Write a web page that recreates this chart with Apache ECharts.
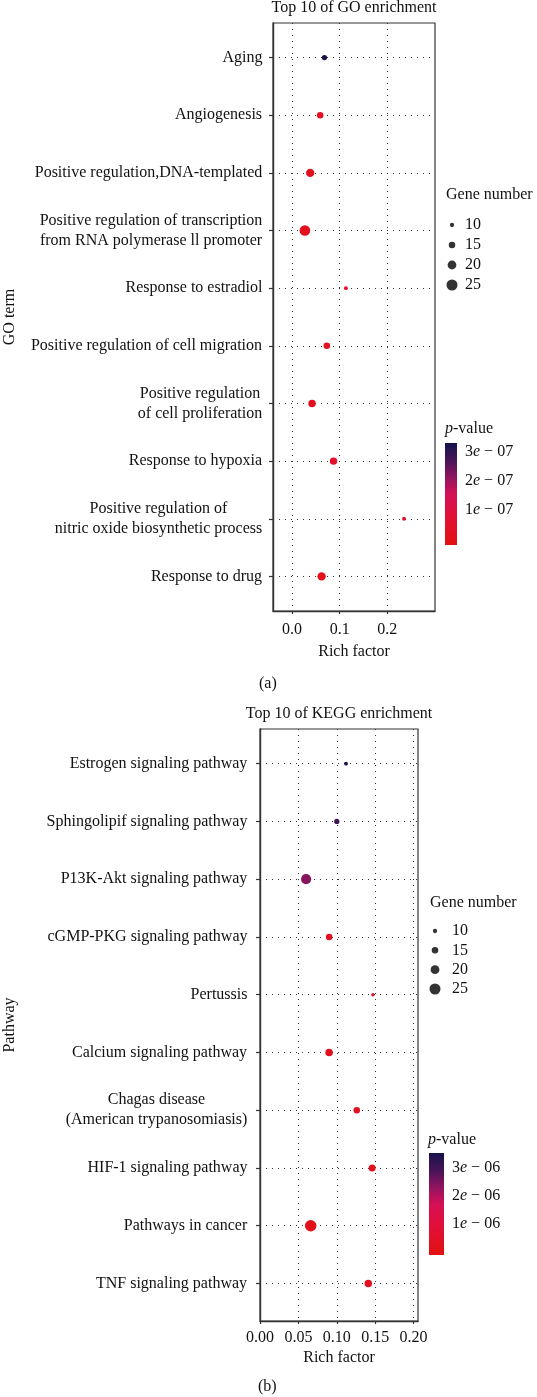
<!DOCTYPE html>
<html><head><meta charset="utf-8">
<script src="https://cdn.jsdelivr.net/npm/echarts@6/dist/echarts.min.js"></script>
<style>html,body{margin:0;padding:0;background:#fff}#c{width:537px;height:1397px}</style>
</head><body><div id="c"></div>
<script>
// ---------- data ----------
const goTerms = ["Aging", "Angiogenesis", "Positive regulation,DNA-templated",
  "Positive regulation of transcription\nfrom RNA polymerase ll promoter",
  "Response to estradiol", "Positive regulation of cell migration",
  "Positive regulation\nof cell proliferation", "Response to hypoxia",
  "Positive regulation of\nnitric oxide biosynthetic process", "Response to drug"];
const goRich = [0.068, 0.059, 0.038, 0.027, 0.113, 0.073, 0.042, 0.087, 0.235, 0.062];
const goGenes = [12, 15, 19, 24, 9, 15, 17, 17, 9, 19];
const goP = [3.3e-7, 1.0e-8, 5e-9, 2e-9, 3e-8, 1e-8, 5e-9, 2e-8, 3e-8, 1e-9];
const goXTicks = [0, 0.1, 0.2];
const goPTicks = [1e-7, 2e-7, 3e-7];
const goPRange = [-0.2e-7, 3.3e-7];

const keggTerms = ["Estrogen signaling pathway", "Sphingolipif signaling pathway",
  "P13K-Akt signaling pathway", "cGMP-PKG signaling pathway", "Pertussis",
  "Calcium signaling pathway", "Chagas disease\n(American trypanosomiasis)",
  "HIF-1 signaling pathway", "Pathways in cancer", "TNF signaling pathway"];
const keggRich = [0.112, 0.100, 0.060, 0.090, 0.147, 0.090, 0.126, 0.146, 0.066, 0.141];
const keggGenes = [9, 12, 23, 15, 8, 17, 15, 16, 26, 17];
const keggP = [3.5e-6, 3.0e-6, 2.2e-6, 2e-7, 2e-7, 1e-7, 2e-7, 1.5e-7, 5e-8, 1e-7];
const keggXTicks = [0, 0.05, 0.10, 0.15, 0.20];
const keggPTicks = [1e-6, 2e-6, 3e-6];
const keggPRange = [-0.15e-6, 3.55e-6];

const sizeLegend = [10, 15, 20, 25];
const pColors = ['#e3100f', '#e1103a', '#d41056', '#931460', '#4a1458', '#17124c'];
const pStops = [0, 0.3, 0.5, 0.66, 0.82, 1];

// ---------- helpers ----------
const FONT = 'Liberation Serif';
const FS = 16;
const INK = '#111';
function sizeOf(n) { return 4.3 + (n - 10) * 0.45; }
const idx = (arr) => arr.map((_, i) => i);
const ctx = document.createElement('canvas').getContext('2d');
ctx.font = FS + 'px "' + FONT + '"';
function makeRich(terms, prefix) {
  const rich = {};
  terms.forEach((t, i) => {
    const w = Math.max(...t.split('\n').map(s => ctx.measureText(s).width));
    rich[prefix + i] = { width: Math.ceil(w) + 1, align: 'center', fontFamily: FONT, fontSize: FS, color: INK, lineHeight: 20 };
  });
  return rich;
}
function termFmt(terms, prefix) {
  return (v) => { const i = Math.round(v); return terms[i].split('\n').map(s => '{' + prefix + i + '|' + s + '}').join('\n'); };
}
function sciFmt(v) {
  const e = Math.floor(Math.log10(v) + 1e-9);
  const m = Math.round(v / Math.pow(10, e));
  const ex = String(-e).padStart(2, '0');
  return '{n|' + m + '}{i|e}{n| − ' + ex + '}';
}
const sciRich = { n: { fontFamily: FONT, fontSize: FS, color: INK }, i: { fontFamily: FONT, fontSize: FS, color: INK, fontStyle: 'italic' } };
const gridLine = { show: true, lineStyle: { type: [1, 5], color: '#333', width: 1 } };
const axLine = { show: true, onZero: false, lineStyle: { color: '#333', width: 1.4 } };
const txt = { fontFamily: FONT, fontSize: FS, color: INK };
const stops = pStops.map((o, i) => ({ offset: o, color: pColors[i] }));

function colorbarSeries(ax, range) {
  return {
    type: 'custom', xAxisIndex: ax, yAxisIndex: ax, silent: true,
    data: [[0, range[0], 1, range[1]]],
    renderItem: (params, api) => {
      const a = api.coord([api.value(0), api.value(1)]);
      const b = api.coord([api.value(2), api.value(3)]);
      return { type: 'rect', shape: { x: a[0], y: b[1], width: b[0] - a[0], height: a[1] - b[1] },
        style: { fill: new echarts.graphic.LinearGradient(0, 1, 0, 0, stops) } };
    }
  };
}

const grids = [
  { left: 273, top: 23, width: 162, height: 588 },      // 0 GO main
  { left: 446, top: 225, width: 12, height: 60 },       // 1 GO size legend
  { left: 445, top: 443, width: 12, height: 102 },      // 2 GO colorbar
  { left: 260, top: 729, width: 158, height: 592 },     // 3 KEGG main
  { left: 429, top: 931, width: 12, height: 58 },       // 4 KEGG size legend
  { left: 429, top: 1153, width: 15, height: 102 }      // 5 KEGG colorbar
].map((g, i) => Object.assign({ outerBoundsMode: 'none', containLabel: false },
  g, (i === 0 || i === 3) ? { show: true, borderColor: '#333', borderWidth: 1.2 } : {}));

function mainX(gi, min, max, ticks, digits, labelMargin, nameGap) {
  return { gridIndex: gi, type: 'value', min, max,
    axisLine: axLine, axisTick: { show: true, length: 3, customValues: ticks, lineStyle: { color: '#333', width: 1.2 } },
    axisLabel: Object.assign({ customValues: ticks, formatter: v => v.toFixed(digits), margin: labelMargin }, txt),
    splitLine: Object.assign({}, gridLine),
    name: 'Rich factor', nameLocation: 'middle', nameGap, nameTextStyle: txt };
}
function mainY(gi, max, terms, prefix, margin, name, nameGap) {
  return { gridIndex: gi, type: 'value', min: -0.6, max, inverse: true,
    axisLine: axLine, axisTick: { show: true, length: 4, customValues: idx(terms), lineStyle: { color: '#333', width: 1.2 } },
    axisLabel: { customValues: idx(terms), formatter: termFmt(terms, prefix), rich: makeRich(terms, prefix), margin, align: 'right' },
    splitLine: Object.assign({}, gridLine),
    name, nameLocation: 'middle', nameGap, nameRotate: 90, nameTextStyle: txt };
}
function legX(gi) { return { gridIndex: gi, type: 'value', min: 0, max: 1, show: false }; }
function sizeY(gi, margin) {
  return { gridIndex: gi, type: 'value', min: 0, max: 3, inverse: true, position: 'right',
    axisLine: { show: false }, axisTick: { show: false }, splitLine: { show: false },
    axisLabel: Object.assign({ customValues: idx(sizeLegend), formatter: v => String(sizeLegend[Math.round(v)]), margin }, txt) };
}
function barY(gi, range, ticks, margin) {
  return { gridIndex: gi, type: 'value', min: range[0], max: range[1], position: 'right',
    axisLine: { show: false }, axisTick: { show: false }, splitLine: { show: false },
    axisLabel: { customValues: ticks, formatter: sciFmt, rich: sciRich, margin } };
}
function dots(gi, rich, genes, p) {
  return { type: 'scatter', xAxisIndex: gi, yAxisIndex: gi,
    data: rich.map((r, i) => [r, i, genes[i], p[i]]),
    symbolSize: v => sizeOf(v[2]), itemStyle: { opacity: 1 } };
}
function sizeDots(gi) {
  return { type: 'scatter', xAxisIndex: gi, yAxisIndex: gi,
    data: sizeLegend.map((g, i) => [0.5, i, g]), symbolSize: v => sizeOf(v[2]),
    itemStyle: { color: '#000' }, silent: true };
}
function ttl(text, left, top, extra) {
  return Object.assign({ text, left, top, padding: 0, textStyle: Object.assign({ fontWeight: 'normal', rich: { i: Object.assign({}, txt, { fontStyle: 'italic' }) } }, txt) }, extra || {});
}

const option = {
  backgroundColor: '#fff',
  animation: false,
  title: [
    ttl('Top 10 of GO enrichment', 354, 0, { textAlign: 'center' }),
    ttl('Gene number', 446, 187),
    ttl('{i|p}-value', 445, 421),
    ttl('(a)', 259, 676),
    ttl('Top 10 of KEGG enrichment', 339, 706, { textAlign: 'center' }),
    ttl('Gene number', 430, 895),
    ttl('{i|p}-value', 428, 1132),
    ttl('(b)', 258, 1379)
  ],
  grid: grids,
  xAxis: [
    mainX(0, -0.04, 0.3, goXTicks, 1, 11, 33),
    legX(1), legX(2),
    mainX(3, 0, 0.2057, keggXTicks, 2, 9, 29),
    legX(4), legX(5)
  ],
  yAxis: [
    mainY(0, 9.6, goTerms, 'g', 10, 'GO term', 255),
    sizeY(1, 7),
    barY(2, goPRange, goPTicks, 8),
    mainY(3, 9.65, keggTerms, 'k', 12, 'Pathway', 242),
    sizeY(4, 11),
    barY(5, keggPRange, keggPTicks, 8)
  ],
  visualMap: [
    { show: false, type: 'continuous', seriesIndex: 0, dimension: 3, min: goPRange[0], max: goPRange[1], inRange: { color: pColors } },
    { show: false, type: 'continuous', seriesIndex: 3, dimension: 3, min: keggPRange[0], max: keggPRange[1], inRange: { color: pColors } }
  ],
  series: [
    dots(0, goRich, goGenes, goP),
    sizeDots(1),
    colorbarSeries(2, goPRange),
    dots(3, keggRich, keggGenes, keggP),
    sizeDots(4),
    colorbarSeries(5, keggPRange)
  ]
};
const chart = echarts.init(document.getElementById('c'), null, { renderer: 'canvas' });
chart.setOption(option);
</script></body></html>
